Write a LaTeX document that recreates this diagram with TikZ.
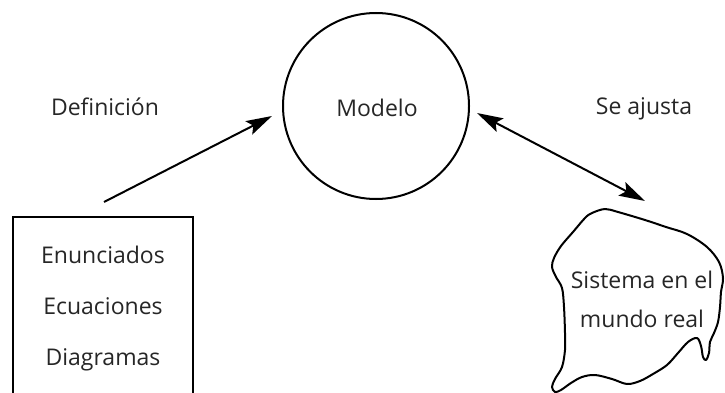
\documentclass[tikz,border=0pt]{standalone}
\usepackage{fontspec}
\setmainfont{Open Sans}
\usetikzlibrary{arrows.meta}
\tikzset{
  lbl/.style={font=\fontsize{23}{27}\selectfont, text=black!85, anchor=base, inner sep=0pt},
  tipline/.style={line width=2pt, -{Stealth[length=26pt,width=15pt,inset=5pt]}},
  dtipline/.style={line width=2pt, {Stealth[length=26pt,width=15pt,inset=5pt]}-{Stealth[length=26pt,width=15pt,inset=5pt]}},
  outl/.style={draw, line width=2pt},
}
\begin{document}
\begin{tikzpicture}[x=1pt,y=-1pt]
\useasboundingbox (0,0) rectangle (725,393);
\clip (0,0) rectangle (725,393);
% circle
\node[outl, circle, minimum size=186pt, inner sep=0pt] (model) at (376,106) {};
\node[lbl] (modeltxt) at (377,117) {Modelo};
% box (open at the bottom, cut by the edge)
\node[outl, rectangle, minimum width=180pt, minimum height=220pt, inner sep=0pt, anchor=north] (box) at (103,216) {};
\node[lbl] (t1) at (103,263) {Enunciados};
\node[lbl] (t2) at (103,314) {Ecuaciones};
\node[lbl] (t3) at (103,365) {Diagramas};
% labels
\node[lbl] (def) at (105,116) {Definición};
\node[lbl] (aj) at (644,115) {Se ajusta};
% blob
\draw[line width=2pt, line join=round] plot[smooth cycle, tension=0.55] coordinates {
 (592,213) (605,209) (618,212) (645,220) (666,227) (687,234) (707,247) (719,262) (723,278)
 (721,292) (720,307) (718,322) (714,333) (710,342) (709,353) (706,360) (703,357) (701,346)
 (697,338) (688,342) (678,353) (667,365) (653,374) (640,381) (627,384) (612,379) (595,375)
 (582,377) (571,383) (561,390) (555,392) (552,387) (555,379) (562,367) (565,350) (565,333)
 (564,307) (562,288) (556,277) (552,267) (554,258) (561,246) (573,232) (585,218)};
\node[lbl] (s1) at (642,288) {Sistema en el};
\node[lbl] (s2) at (642,327) {mundo real};
% connectors
\coordinate (defstart) at (104,202);
\coordinate (defend) at (272,116);
\coordinate (ajA) at (477,113);
\coordinate (ajB) at (645,201);
\draw[tipline] (defstart) -- (defend);
\draw[dtipline] (ajA) -- (ajB);
\end{tikzpicture}
\end{document}
